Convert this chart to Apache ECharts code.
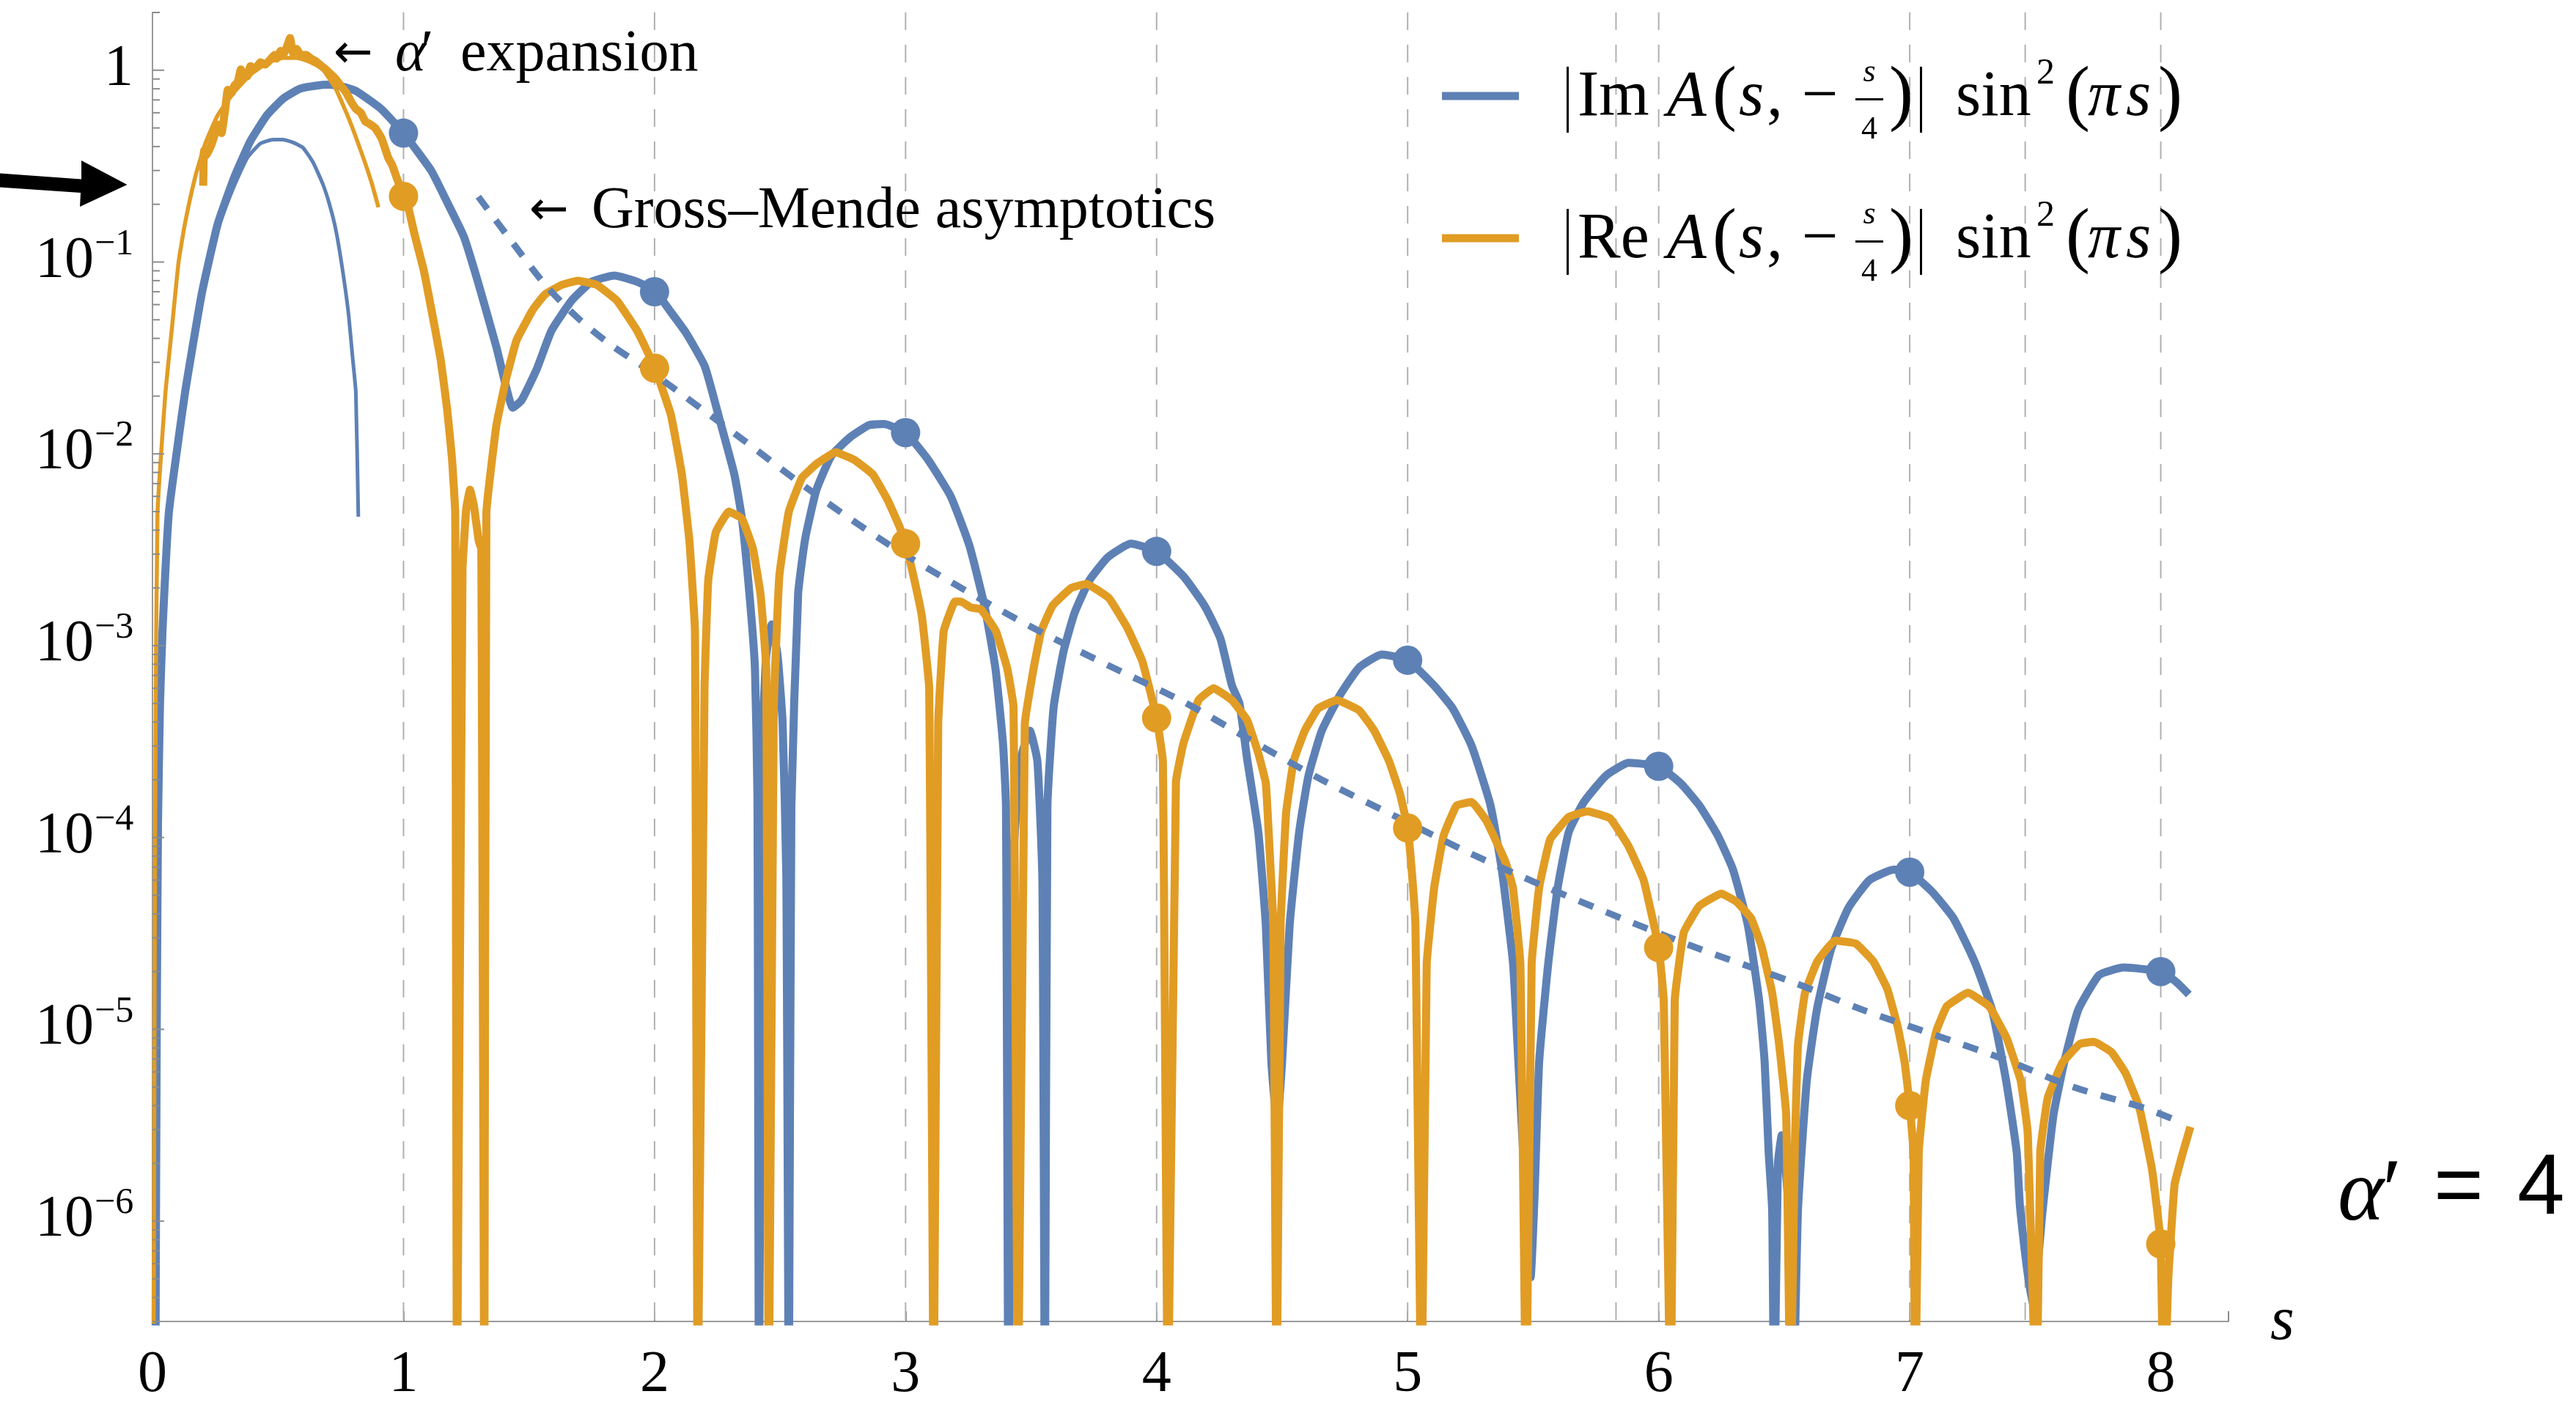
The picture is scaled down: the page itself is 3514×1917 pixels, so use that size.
<!DOCTYPE html>
<html><head><meta charset="utf-8">
<script src="https://cdn.jsdelivr.net/npm/echarts@6/dist/echarts.min.js"></script>
<style>html,body{margin:0;padding:0;background:#fff}#c{width:3514px;height:1917px}</style>
</head><body><div id="c"></div>
<script>
// ---------------- data ----------------
const ZERO = 1e-7; // dips to zero (log -> -inf), drawn below the axis and clipped
const imCurve = [
[0.012,ZERO],[0.013,5e-7],[0.017,1e-5],[0.022,1.2e-4],[0.03,5e-4],[0.04,1.2e-3],[0.065,4.9e-3],[0.1,1.1e-2],[0.13,2.1e-2],[0.196,6.8e-2],[0.26,0.158],[0.326,0.277],[0.39,0.427],[0.456,0.583],[0.52,0.71],[0.587,0.80],[0.65,0.83],[0.704,0.84],[0.76,0.82],[0.81,0.78],[0.91,0.63],[1.0,0.47],[1.11,0.30],[1.17,0.21],[1.24,0.136],[1.30,7.6e-2],[1.37,3.6e-2],[1.41,2.2e-2],[1.435,1.74e-2],[1.47,1.9e-2],[1.53,2.75e-2],[1.59,4.4e-2],[1.67,6.3e-2],[1.75,7.9e-2],[1.84,8.5e-2],[1.93,7.9e-2],[2.0,7.1e-2],[2.06,5.6e-2],[2.124,4.3e-2],[2.2,2.86e-2],[2.258,1.53e-2],[2.318,7.8e-3],[2.348,4.6e-3],[2.378,1.86e-3],[2.40,7.6e-4],[2.41,1.6e-4],[2.416,ZERO],
[2.43,3.2e-4],[2.445,8.9e-4],[2.467,1.29e-3],[2.49,8.9e-4],[2.51,4.0e-4],[2.525,6.3e-5],[2.535,ZERO],
[2.545,1.45e-4],[2.572,1.86e-3],[2.60,3.6e-3],[2.645,6.5e-3],[2.705,9.8e-3],[2.779,1.22e-2],[2.854,1.41e-2],[2.913,1.43e-2],[3.0,1.29e-2],[3.09,9.3e-3],[3.18,6.0e-3],[3.254,3.33e-3],[3.314,1.62e-3],[3.358,7.6e-4],[3.388,3.1e-4],[3.40,1.45e-4],[3.41,ZERO],
[3.43,8e-5],[3.46,2.6e-4],[3.495,3.6e-4],[3.525,2.5e-4],[3.545,6e-5],[3.555,ZERO],
[3.565,1.45e-4],[3.59,4.8e-4],[3.629,9.3e-4],[3.673,1.48e-3],[3.733,2.2e-3],[3.807,2.9e-3],[3.897,3.4e-3],[4.0,3.1e-3],[4.107,2.3e-3],[4.18,1.7e-3],[4.21,1.45e-3],[4.255,1.08e-3],[4.30,6.2e-4],[4.33,5.0e-4],[4.36,2.6e-4],[4.405,1.07e-4],[4.435,3.5e-5],[4.457,6.8e-6],[4.48,3.2e-6],[4.5,6.8e-6],[4.53,3.5e-5],[4.568,1.07e-4],[4.605,2.1e-4],[4.658,3.6e-4],[4.733,5.6e-4],[4.807,7.7e-4],[4.897,9.0e-4],[5.0,8.4e-4],[5.105,6.2e-4],[5.18,4.7e-4],[5.255,3.0e-4],[5.33,1.47e-4],[5.375,6.8e-5],[5.42,2.2e-5],[5.441,6.8e-6],[5.47,1.3e-6],[5.49,5.1e-7],[5.505,1.3e-6],[5.524,6.8e-6],[5.56,2.2e-5],[5.598,5.5e-5],[5.642,1.07e-4],[5.702,1.53e-4],[5.79,2.1e-4],[5.88,2.45e-4],[6.0,2.35e-4],[6.087,1.92e-4],[6.162,1.47e-4],[6.236,1.02e-4],[6.296,6.8e-5],[6.355,3.5e-5],[6.4,1.42e-5],[6.422,6.8e-6],[6.438,2.3e-6],[6.452,1.15e-6],[6.46,ZERO],
[6.475,2.0e-6],[6.49,2.8e-6],[6.515,1.3e-6],[6.535,ZERO],
[6.555,1.15e-6],[6.59,5.4e-6],[6.63,1.26e-5],[6.686,2.6e-5],[6.756,4.3e-5],[6.84,6.0e-5],[6.937,6.8e-5],[7.0,6.6e-5],[7.09,5.2e-5],[7.174,3.8e-5],[7.258,2.26e-5],[7.328,1.26e-5],[7.384,5.4e-6],[7.426,2.3e-6],[7.44,1.16e-6],[7.49,3.5e-7],[7.53,1.16e-6],[7.573,3.6e-6],[7.615,6.7e-6],[7.671,1.26e-5],[7.755,1.92e-5],[7.853,2.1e-5],[8.0,2.0e-5],[8.063,1.76e-5],[8.112,1.52e-5]
];
const reCurve = [
[0.202,0.25],[0.205,0.38],[0.215,0.36],[0.235,0.41],[0.25,0.47],[0.26,0.52],[0.275,0.47],[0.29,0.63],[0.30,0.79],[0.315,0.76],[0.326,0.83],[0.34,0.87],[0.352,1.01],[0.365,0.93],[0.378,0.93],[0.39,1.05],[0.41,1.02],[0.43,1.10],[0.45,1.07],[0.47,1.14],[0.485,1.20],[0.495,1.15],[0.51,1.26],[0.52,1.20],[0.535,1.32],[0.548,1.47],[0.56,1.23],[0.574,1.29],[0.59,1.20],[0.613,1.20],[0.632,1.15],[0.652,1.11],[0.67,1.06],[0.69,1.01],[0.71,0.955],[0.73,0.90],[0.75,0.83],[0.77,0.77],[0.79,0.69],[0.81,0.63],[0.83,0.60],[0.848,0.54],[0.865,0.525],[0.887,0.50],[0.913,0.44],[0.939,0.35],[0.955,0.32],[0.972,0.277],[0.985,0.25],[1.0,0.22],[1.02,0.19],[1.043,0.141],[1.082,8.9e-2],[1.12,4.9e-2],[1.148,3.1e-2],[1.174,1.7e-2],[1.193,9.5e-3],[1.206,4.9e-3],[1.213,ZERO],
[1.235,2.5e-3],[1.25,5.2e-3],[1.265,6.5e-3],[1.28,5.4e-3],[1.30,3.5e-3],[1.31,3.2e-3],[1.322,ZERO],
[1.33,4.9e-3],[1.37,1.41e-2],[1.41,2.5e-2],[1.45,3.9e-2],[1.51,5.5e-2],[1.53,6.0e-2],[1.565,6.8e-2],[1.63,7.6e-2],[1.695,8.0e-2],[1.77,7.6e-2],[1.85,6.3e-2],[1.93,4.4e-2],[2.0,2.84e-2],[2.065,1.6e-2],[2.109,7.8e-3],[2.139,3.5e-3],[2.161,1.19e-3],[2.172,ZERO],
[2.199,5.9e-4],[2.214,2.2e-3],[2.244,3.9e-3],[2.296,5.0e-3],[2.348,4.6e-3],[2.392,3.2e-3],[2.422,1.86e-3],[2.445,7.6e-4],[2.455,ZERO],
[2.475,4.8e-4],[2.497,2.3e-3],[2.535,5.0e-3],[2.587,7.5e-3],[2.647,8.9e-3],[2.721,1.02e-2],[2.796,9.3e-3],[2.87,7.8e-3],[2.93,5.7e-3],[2.975,4.2e-3],[3.0,3.4e-3],[3.035,2.2e-3],[3.065,1.42e-3],[3.094,6.0e-4],[3.112,ZERO],
[3.13,3.9e-4],[3.152,1.19e-3],[3.197,1.7e-3],[3.22,1.7e-3],[3.26,1.58e-3],[3.30,1.55e-3],[3.36,1.19e-3],[3.405,7.6e-4],[3.43,4.8e-4],[3.448,ZERO],
[3.475,3.9e-4],[3.51,7.6e-4],[3.54,1.19e-3],[3.586,1.62e-3],[3.66,2.0e-3],[3.72,2.1e-3],[3.81,1.77e-3],[3.883,1.24e-3],[3.943,8.3e-4],[4.0,4.2e-4],[4.025,2.5e-4],[4.045,ZERO],
[4.077,1.95e-4],[4.107,3.1e-4],[4.167,5.2e-4],[4.227,6.0e-4],[4.30,5.2e-4],[4.36,4.1e-4],[4.405,2.75e-4],[4.435,1.92e-4],[4.45,8.6e-5],[4.465,3.5e-5],[4.478,ZERO],
[4.494,3.5e-5],[4.516,1.35e-4],[4.546,2.5e-4],[4.59,3.6e-4],[4.643,4.7e-4],[4.718,5.2e-4],[4.807,4.6e-4],[4.867,3.6e-4],[4.926,2.5e-4],[4.97,1.68e-4],[5.0,1.12e-4],[5.016,6.8e-5],[5.031,3.5e-5],[5.055,ZERO],
[5.076,2.2e-5],[5.106,5.5e-5],[5.143,1.02e-4],[5.195,1.47e-4],[5.255,1.53e-4],[5.314,1.22e-4],[5.389,7.5e-5],[5.419,5.5e-5],[5.449,2.2e-5],[5.472,ZERO],
[5.494,2.2e-5],[5.524,5.5e-5],[5.568,9.8e-5],[5.642,1.28e-4],[5.716,1.37e-4],[5.806,1.26e-4],[5.88,9.0e-5],[5.94,6.0e-5],[6.0,2.67e-5],[6.02,1.42e-5],[6.048,ZERO],
[6.064,1.42e-5],[6.10,3.2e-5],[6.162,4.4e-5],[6.25,5.1e-5],[6.312,4.6e-5],[6.368,3.8e-5],[6.41,2.7e-5],[6.452,1.55e-5],[6.48,8.3e-6],[6.508,3.6e-6],[6.525,ZERO],
[6.542,2.3e-6],[6.555,8.3e-6],[6.583,1.55e-5],[6.632,2.26e-5],[6.702,2.9e-5],[6.785,2.8e-5],[6.855,2.26e-5],[6.911,1.62e-5],[6.953,1.02e-5],[6.98,6.7e-6],[7.0,4.0e-6],[7.015,2.3e-6],[7.022,ZERO],
[7.036,2.3e-6],[7.064,5.4e-6],[7.106,9.8e-6],[7.148,1.32e-5],[7.232,1.55e-5],[7.316,1.32e-5],[7.386,9.0e-6],[7.442,5.4e-6],[7.47,2.9e-6],[7.505,ZERO],
[7.52,2.3e-6],[7.55,4.4e-6],[7.608,6.7e-6],[7.678,8.4e-6],[7.734,8.6e-6],[7.804,7.6e-6],[7.86,5.9e-6],[7.915,3.9e-6],[7.964,1.9e-6],[7.985,1.16e-6],[8.0,7.6e-7],[8.012,ZERO],
[8.03,5e-7],[8.055,1.55e-6],[8.085,2.2e-6],[8.118,3.1e-6]
];
const imAlphaCurve = [
[0.012,ZERO],[0.013,5e-7],[0.017,1e-5],[0.022,1.2e-4],[0.03,5e-4],[0.04,1.2e-3],[0.065,4.8e-3],[0.1,1.08e-2],[0.13,2.05e-2],[0.196,6.6e-2],[0.26,0.15],[0.326,0.25],[0.378,0.35],[0.43,0.415],[0.48,0.435],[0.52,0.435],[0.56,0.42],[0.6,0.394],[0.64,0.33],[0.678,0.256],[0.705,0.2],[0.73,0.148],[0.755,9.5e-2],[0.78,5.5e-2],[0.797,3.2e-2],[0.81,2.1e-2],[0.82,4.7e-3]
];
const reAlphaCurve = [
[0.004,ZERO],[0.008,1e-5],[0.012,3e-4],[0.02,4.9e-3],[0.052,2.1e-2],[0.078,4.6e-2],[0.104,0.1],[0.13,0.16],[0.17,0.277],[0.209,0.41],[0.26,0.583],[0.326,0.77],[0.391,0.95],[0.456,1.09],[0.52,1.16],[0.574,1.16],[0.63,1.10],[0.678,1.01],[0.73,0.80],[0.782,0.56],[0.835,0.364],[0.874,0.256],[0.9,0.193]
];
const grossMende = [
[1.298,0.219],[1.435,0.126],[1.565,7.6e-2],[1.695,5.1e-2],[1.826,3.7e-2],[1.982,2.7e-2],[2.318,1.28e-2],[2.616,6.5e-3],[2.913,3.5e-3],[3.21,2.04e-3],[3.507,1.24e-3],[3.807,7.9e-4],[4.107,5.1e-4],[4.36,3.3e-4],[4.658,2.0e-4],[4.956,1.28e-4],[5.255,8.2e-5],[5.553,5.5e-5],[5.85,3.8e-5],[6.148,2.67e-5],[6.535,1.76e-5],[6.815,1.26e-5],[7.094,9.4e-6],[7.374,7.0e-6],[7.653,5.0e-6],[7.932,3.9e-6],[8.05,3.4e-6]
];
const imDots = [[1,0.47],[2,0.070],[3,0.0129],[4,3.1e-3],[5,8.4e-4],[6,2.35e-4],[7,6.6e-5],[8,2.0e-5]];
const reDots = [[1,0.22],[2,0.028],[3,3.4e-3],[4,4.2e-4],[5,1.12e-4],[6,2.67e-5],[7,4.0e-6],[8,7.6e-7]];
const gridX = [1,2,3,4,5,5.83,6,7,7.46,8];
const xTickLabels = ['0','1','2','3','4','5','6','7','8'];
const yMajorTicks = [1,1e-1,1e-2,1e-3,1e-4,1e-5,1e-6];
const yMajorExp = ['','−1','−2','−3','−4','−5','−6'];
const yMantissas = [2,3,4,5,6,7,8,9];
const Y_MIN = 3e-7, Y_MAX = 2, X_MAX = 8.27;

// ---------------- styles ----------------
const BLUE = '#5E81B5', ORANGE = '#E19C24';
const SERIF = 'Liberation Serif';
const SANS = 'Liberation Sans';
const TICK_FONT = 80, SUP_FONT = 50;

const yTickData = [];
yMajorTicks.forEach((v, i) => yTickData.push([0, v, 1, i]));
[1e-7,1e-6,1e-5,1e-4,1e-3,1e-2,1e-1,1].forEach(d => yMantissas.forEach(m => {
  const v = m * d; if (v >= Y_MIN && v <= Y_MAX) yTickData.push([0, v, 0, -1]);
}));

function renderYTick(params, api) {
  const v = api.value(1), major = api.value(2) === 1;
  const p = api.coord([0, v]);
  const ch = [{ type: 'line', shape: { x1: p[0], y1: p[1], x2: p[0] + (major ? 16 : 10), y2: p[1] },
    style: { stroke: '#8c8c8c', lineWidth: 2 } }];
  if (major) {
    const sup = yMajorExp[api.value(3)];
    if (!sup) {
      ch.push({ type: 'text', x: p[0] - 26, y: p[1] - 1, style: { text: '1', align: 'right', verticalAlign: 'middle', fontSize: TICK_FONT, fontFamily: SERIF, fill: '#000' } });
    } else {
      ch.push({ type: 'text', x: p[0] - 80, y: p[1] - 1, style: { text: '10', align: 'right', verticalAlign: 'middle', fontSize: TICK_FONT, fontFamily: SERIF, fill: '#000' } });
      ch.push({ type: 'text', x: p[0] - 79, y: p[1] - 24, style: { text: sup, align: 'left', verticalAlign: 'middle', fontSize: SUP_FONT, fontFamily: SERIF, fill: '#000' } });
    }
  }
  return { type: 'group', children: ch };
}
function renderGrid(params, api) {
  const v = api.value(0);
  const a = api.coord([v, Y_MAX]), b = api.coord([v, Y_MIN]);
  return { type: 'line', shape: { x1: a[0], y1: a[1], x2: b[0], y2: b[1] },
    style: { stroke: '#b0b0b0', lineWidth: 2, lineDash: [24, 20] } };
}

function tx(x, base, str, size, o) {
  o = o || {};
  const k = o.sans ? 0.3465 : 0.265;
  return { type: 'text', x: x, y: base - k * size, z: 100, silent: true,
    style: { text: str, fontSize: size, fontFamily: o.family || (o.sans ? SANS : SERIF), fontStyle: o.italic ? 'italic' : 'normal',
      fill: '#000', align: o.align || 'left', verticalAlign: 'middle' } };
}
function legendRow(dy, label, color) {
  return [
    { type: 'line', shape: { x1: 1967, y1: 127 + dy, x2: 2072, y2: 127 + dy }, style: { stroke: color, lineWidth: 11 }, z: 100 },
    { type: 'rect', shape: { x: 2137, y: 87 + dy, width: 3, height: 90 }, style: { fill: '#000' }, z: 100 },
    tx(2152, 153 + dy, label, 88),
    tx(2274, 153 + dy, 'A', 88, { italic: true }),
    tx(2336, 155 + dy, '(', 99),
    tx(2372, 153 + dy, 's', 88, { italic: true }),
    tx(2410, 153 + dy, ',', 88),
    tx(2458, 153 + dy, '−', 88),
    tx(2550, 107 + dy, 's', 44, { italic: true, align: 'center' }),
    { type: 'rect', shape: { x: 2531, y: 130 + dy, width: 38, height: 3 }, style: { fill: '#000' }, z: 100 },
    tx(2550, 185 + dy, '4', 44, { align: 'center' }),
    tx(2577, 155 + dy, ')', 99),
    { type: 'rect', shape: { x: 2619, y: 87 + dy, width: 3, height: 90 }, style: { fill: '#000' }, z: 100 },
    tx(2668, 153 + dy, 'sin', 88),
    tx(2778, 110 + dy, '2', 50),
    tx(2818, 155 + dy, '(', 99),
    tx(2848, 153 + dy, 'π', 88, { italic: true }),
    tx(2900, 153 + dy, 's', 88, { italic: true }),
    tx(2944, 155 + dy, ')', 99)
  ];
}

const graphics = [].concat(
  legendRow(4, 'Im', BLUE),
  legendRow(198, 'Re', ORANGE),
  [
    tx(455, 92, '←', 64, { family: 'DejaVu Sans' }),
    tx(539, 96, 'α', 80, { italic: true }),
    tx(574, 96, '′', 80),
    tx(628, 96, 'expansion', 80),
    tx(722, 306, '←', 64, { family: 'DejaVu Sans' }),
    tx(807, 310, 'Gross–Mende asymptotics', 80),
    tx(3189, 1664, 'α', 120, { italic: true }),
    tx(3250, 1664, '′', 120),
    tx(3320, 1664, '=', 116, { sans: true }),
    tx(3434, 1664, '4', 116, { sans: true }),
    tx(3097, 1827, 's', 84, { italic: true }),
    { type: 'polygon', z: 100, shape: { points: [[0,236.6],[111,244.6],[111,219],[173.5,252],[109,282],[110,263],[0,255.5]] }, style: { fill: '#000' } }
  ]
);

const chart = echarts.init(document.getElementById('c'), null, { renderer: 'canvas' });
chart.setOption({
  animation: false,
  backgroundColor: '#ffffff',
  grid: { left: 208, right: 474, top: 17, bottom: 113 },
  xAxis: {
    type: 'value', min: 0, max: X_MAX, interval: 1,
    axisLine: { onZero: false, lineStyle: { color: '#9a9a9a', width: 2 } },
    axisTick: { inside: true, length: 14, lineStyle: { color: '#8c8c8c', width: 2 } },
    axisLabel: { margin: 34, fontSize: TICK_FONT, fontFamily: SERIF, color: '#000',
      formatter: v => (Number.isInteger(v) && xTickLabels[v] !== undefined) ? xTickLabels[v] : '' },
    splitLine: { show: false }
  },
  yAxis: {
    type: 'log', logBase: 10, min: Y_MIN, max: Y_MAX,
    axisLine: { show: true, onZero: false, lineStyle: { color: '#9a9a9a', width: 2 } },
    axisTick: { show: false }, axisLabel: { show: false }, splitLine: { show: false }
  },
  graphic: graphics,
  series: [
    { type: 'custom', renderItem: renderGrid, data: gridX.map(v => [v, 1]), z: 1, silent: true, clip: false },
    { type: 'line', name: 'Im', data: imCurve, symbol: 'none', smooth: 0.15, lineStyle: { color: BLUE, width: 11 }, z: 2, silent: true },
    { type: 'line', name: 'ImAlpha', data: imAlphaCurve, symbol: 'none', smooth: 0.15, lineStyle: { color: BLUE, width: 5 }, z: 3, silent: true },
    { type: 'line', name: 'Re', data: reCurve, symbol: 'none', smooth: 0.1, lineStyle: { color: ORANGE, width: 11 }, z: 4, silent: true },
    { type: 'line', name: 'ReAlpha', data: reAlphaCurve, symbol: 'none', smooth: 0.15, lineStyle: { color: ORANGE, width: 5.5 }, z: 5, silent: true },
    { type: 'line', name: 'GM', data: grossMende, symbol: 'none', smooth: 0.3, lineStyle: { color: BLUE, width: 9, type: [21, 19] }, z: 6, silent: true },
    { type: 'scatter', data: imDots, symbolSize: 40, itemStyle: { color: BLUE, opacity: 1 }, z: 7, silent: true },
    { type: 'scatter', data: reDots, symbolSize: 40, itemStyle: { color: ORANGE, opacity: 1 }, z: 8, silent: true },
    { type: 'custom', renderItem: renderYTick, data: yTickData, z: 10, silent: true, clip: false }
  ]
});
</script></body></html>
